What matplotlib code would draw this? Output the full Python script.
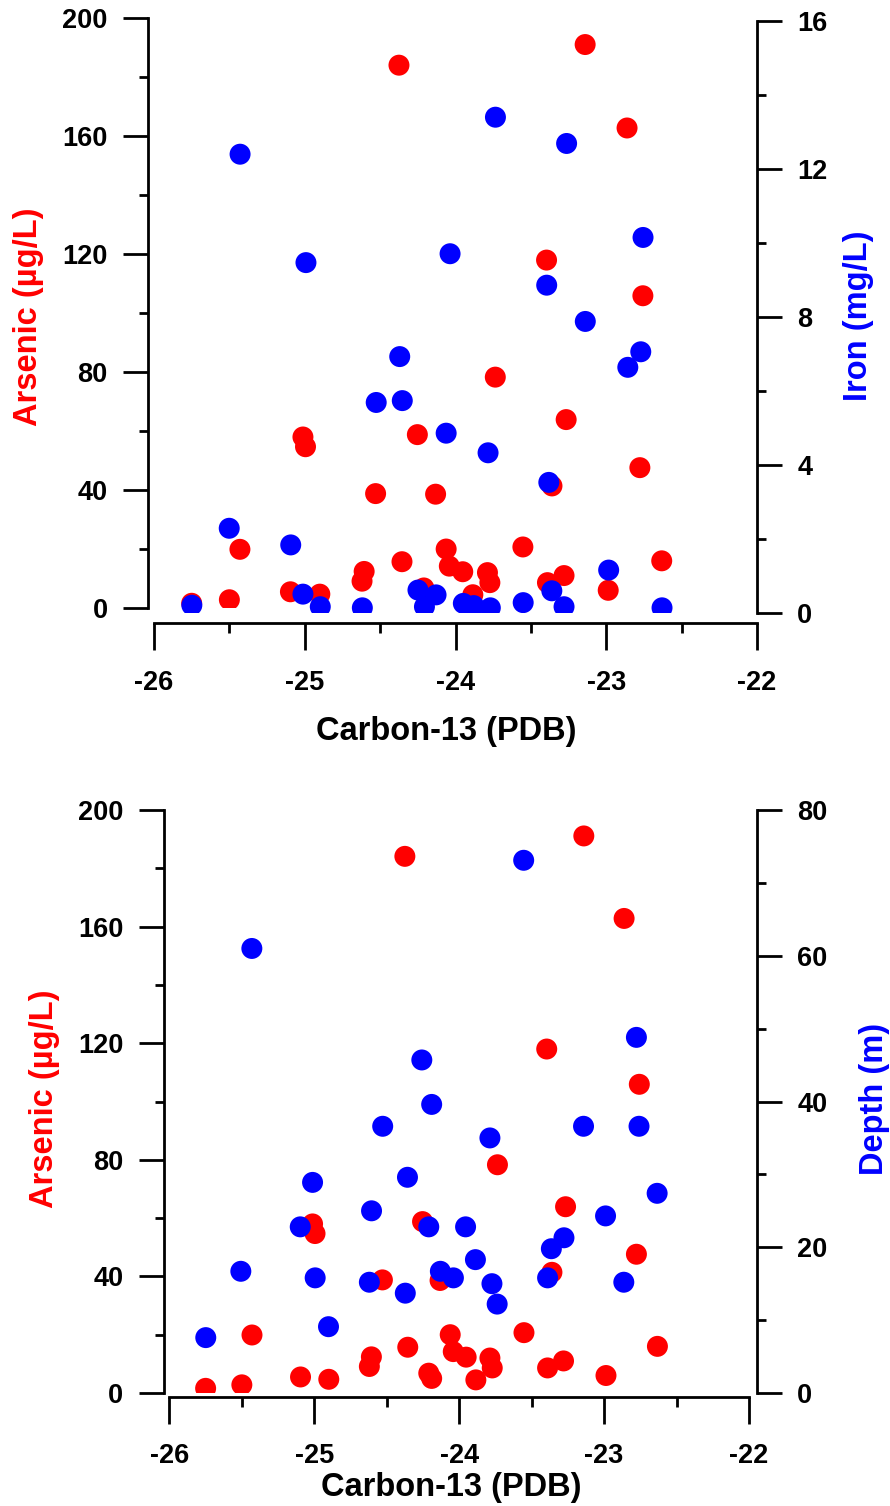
import matplotlib
matplotlib.use('Agg')
import matplotlib.pyplot as plt
from matplotlib.ticker import MultipleLocator

plt.rcParams['font.family'] = ['Liberation Sans', 'DejaVu Sans']
plt.rcParams['font.weight'] = 'bold'
plt.rcParams['axes.unicode_minus'] = False

# arsenic vs carbon-13 (same samples in both panels)
carbon_as = [-25.75, -25.50, -25.43, -25.095, -25.012, -24.995, -24.90, -24.62, -24.606,
             -24.53, -24.355, -24.375, -24.253, -24.21, -24.19, -24.132, -24.062, -24.041,
             -23.952, -23.885, -23.788, -23.772, -23.736, -23.553, -23.39, -23.36, -23.28,
             -23.266, -23.14, -22.987, -22.862, -22.777, -22.757, -22.632, -23.396]
arsenic = [1.6, 2.8, 19.9, 5.5, 58.0, 54.7, 4.7, 9.1, 12.4,
           38.8, 15.7, 184.1, 58.8, 6.8, 5.0, 38.6, 20.0, 14.2,
           12.3, 4.5, 12.0, 8.6, 78.3, 20.7, 8.6, 41.4, 11.0,
           63.9, 191.1, 6.0, 162.8, 47.6, 105.9, 16.0, 118.0]

# iron vs carbon-13
carbon_fe = [-25.429, -23.735, -23.263, -24.992, -24.036, -22.756, -23.395, -23.139,
             -24.37, -22.771, -22.857, -24.526, -24.353, -24.062, -23.784, -23.381,
             -25.501, -25.093, -22.984, -25.749, -25.012, -24.897, -24.618, -24.249,
             -24.206, -24.129, -23.948, -23.879, -23.769, -23.551, -23.361, -23.28, -22.63]
iron = [12.40, 13.40, 12.69, 9.47, 9.71, 10.15, 8.86, 7.88,
        6.93, 7.06, 6.64, 5.69, 5.74, 4.86, 4.33, 3.53,
        2.29, 1.84, 1.16, 0.21, 0.51, 0.17, 0.14, 0.62,
        0.17, 0.49, 0.26, 0.20, 0.14, 0.28, 0.60, 0.17, 0.14]

# depth vs carbon-13
carbon_dp = [-25.431, -23.555, -24.258, -22.777, -24.19, -24.528, -23.142, -22.759,
             -23.788, -24.357, -25.012, -22.634, -24.605, -22.99, -25.097, -24.21,
             -23.956, -23.277, -23.364, -23.888, -25.507, -24.13, -24.04, -24.994,
             -23.39, -24.62, -23.774, -22.864, -24.372, -23.738, -24.902, -25.749]
depth = [61.0, 73.1, 45.7, 48.8, 39.6, 36.6, 36.6, 36.6,
         35.0, 29.6, 28.9, 27.4, 25.0, 24.3, 22.8, 22.8,
         22.8, 21.3, 19.8, 18.3, 16.7, 16.7, 15.8, 15.8,
         15.8, 15.2, 15.0, 15.2, 13.7, 12.2, 9.1, 7.6]

W, H = 890, 1506
RED = '#ff0000'
BLUE = '#0000ff'
S = 228
PX = 0.72  # points per pixel at dpi 100


def box(x0, x1, ytop, ybot):
    return [x0 / W, 1 - ybot / H, (x1 - x0) / W, (ybot - ytop) / H]


def style_left(ax, out_left, out_bottom):
    for s in ['top', 'right']:
        ax.spines[s].set_visible(False)
    ax.spines['left'].set_position(('outward', out_left * PX))
    ax.spines['bottom'].set_position(('outward', out_bottom * PX))
    for s in ['left', 'bottom']:
        ax.spines[s].set_linewidth(2)
    ax.set_xlim(-26, -22)
    ax.set_ylim(0, 200)
    ax.xaxis.set_major_locator(MultipleLocator(1))
    ax.xaxis.set_minor_locator(MultipleLocator(0.5))
    ax.yaxis.set_major_locator(MultipleLocator(40))
    ax.yaxis.set_minor_locator(MultipleLocator(20))
    ax.tick_params(axis='y', which='major', direction='out', length=18, width=2,
                   pad=11, labelsize=19.5)
    ax.tick_params(axis='y', which='minor', direction='out', length=6.5, width=2)
    ax.tick_params(axis='x', which='major', direction='out', length=19.5, width=2,
                   pad=14, labelsize=19.5)
    ax.tick_params(axis='x', which='minor', direction='out', length=7, width=2)
    ax.patch.set_alpha(0)


def style_right(ax, out_right, top, step):
    for s in ['top', 'left', 'bottom']:
        ax.spines[s].set_visible(False)
    ax.spines['right'].set_position(('outward', out_right * PX))
    ax.spines['right'].set_linewidth(2)
    ax.set_xlim(-26, -22)
    ax.set_ylim(0, top)
    ax.yaxis.set_major_locator(MultipleLocator(step))
    ax.yaxis.set_minor_locator(MultipleLocator(step / 2))
    ax.xaxis.set_visible(False)
    ax.yaxis.tick_right()
    ax.tick_params(axis='y', which='major', direction='out', length=18, width=2,
                   pad=11, labelsize=19.5)
    ax.tick_params(axis='y', which='minor', direction='out', length=6.5, width=2)
    ax.patch.set_alpha(0)


fig = plt.figure(figsize=(W / 100, H / 100), dpi=100)

# top panel: arsenic and iron
ax1 = fig.add_axes(box(154, 757, 18.3, 608))
style_left(ax1, 6, 15)
ax1.scatter(carbon_as, arsenic, s=S, color=RED, edgecolors='none', zorder=2)

ax1r = fig.add_axes(box(154, 757, 21, 613))
style_right(ax1r, 0, 16, 4)
ax1r.scatter(carbon_fe, iron, s=S, color=BLUE, edgecolors='none', zorder=3)

# bottom panel: arsenic and depth
ax2 = fig.add_axes(box(169.4, 749, 810, 1393))
style_left(ax2, 5.7, 3.7)
ax2.scatter(carbon_as, arsenic, s=S, color=RED, edgecolors='none', zorder=2)

ax2r = ax2.twinx()
style_right(ax2r, 8, 80, 20)
ax2r.scatter(carbon_dp, depth, s=S, color=BLUE, edgecolors='none', zorder=3)

# axis titles
fs = 23.5
fig.text(446 / W, 1 - 740 / H, 'Carbon-13 (PDB)', ha='center', va='baseline',
         fontsize=fs, fontweight='bold')
fig.text(451 / W, 1 - 1496 / H, 'Carbon-13 (PDB)', ha='center', va='baseline',
         fontsize=fs, fontweight='bold')
fig.text(29 / W, 1 - 317 / H, 'Arsenic (µg/L)', rotation=90, ha='center', va='center',
         fontsize=fs, fontweight='bold', color=RED)
fig.text(858 / W, 1 - 316 / H, 'Iron (mg/L)', rotation=90, ha='center', va='center',
         fontsize=fs, fontweight='bold', color=BLUE)
fig.text(45 / W, 1 - 1099 / H, 'Arsenic (µg/L)', rotation=90, ha='center', va='center',
         fontsize=fs, fontweight='bold', color=RED)
fig.text(874 / W, 1 - 1099 / H, 'Depth (m)', rotation=90, ha='center', va='center',
         fontsize=fs, fontweight='bold', color=BLUE)

fig.savefig('out.png', dpi=100)
